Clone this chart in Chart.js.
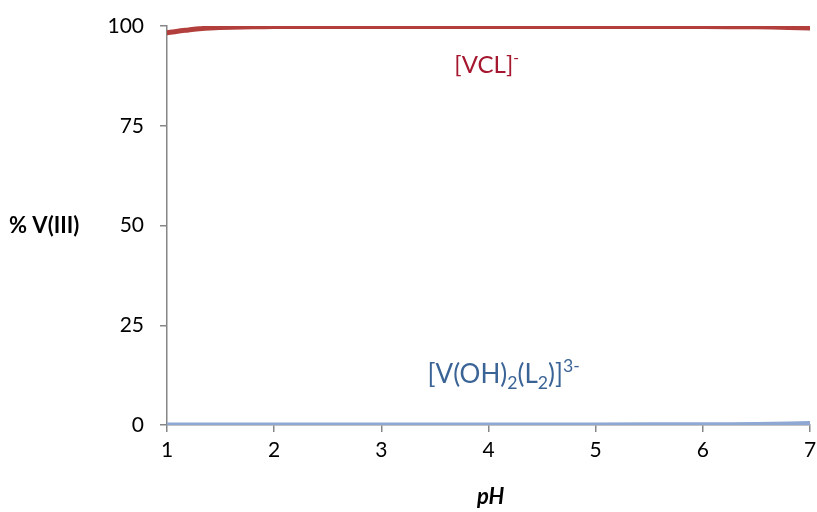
<!DOCTYPE html>
<html>
<head>
<meta charset="utf-8">
<script src="https://cdn.jsdelivr.net/npm/chart.js@4/dist/chart.umd.min.js"></script>
<style>
  html, body { margin: 0; padding: 0; background: #fff; }
  #wrap { width: 817px; height: 512px; position: relative; }
</style>
</head>
<body>
<div id="wrap"><canvas id="c" width="817" height="512"></canvas></div>
<script>
// Speciation of V(III) versus pH
const pH       = [1, 1.1, 1.2, 1.3, 1.4, 1.6, 1.8, 2, 3, 4, 5, 6, 6.5, 6.8, 7];
const vcl      = [98.3, 98.7, 99.0, 99.3, 99.5, 99.7, 99.8, 99.85, 99.9, 99.9, 99.9, 99.85, 99.8, 99.65, 99.5];
const vohL2    = [0, 0, 0, 0, 0, 0, 0, 0, 0, 0, 0.02, 0.05, 0.1, 0.25, 0.4];
const minor    = [0, 0, 0, 0, 0, 0, 0, 0, 0, 0, 0, 0.02, 0.05, 0.12, 0.2];
const yTicks   = [0, 25, 50, 75, 100];
const xTicks   = [1, 2, 3, 4, 5, 6, 7];

const FONT = "Lato, 'Open Sans', sans-serif";
const AXIS_GREY = '#868686';

const toXY = (xs, ys) => xs.map((x, i) => ({ x, y: ys[i] }));

// Labels for species, sub/superscripts, and axis titles
const annotations = {
  id: 'annotations',
  afterDraw(chart) {
    const { ctx, scales: { x, y } } = chart;
    ctx.save();
    ctx.textBaseline = 'alphabetic';

    // runs of [text, mode] where mode is 'n', 'sub' or 'sup'
    function drawRuns(runs, startX, baseY, size, color, small) {
      let cx = startX;
      ctx.fillStyle = color;
      for (const [t, mode] of runs) {
        const s = mode === 'n' ? size : size * small;
        ctx.font = `${s}px ${FONT}`;
        let by = baseY;
        if (mode === 'sub') by = baseY + size * 0.24;
        if (mode === 'sup') by = baseY - size * 0.42;
        ctx.fillText(t, cx, by);
        cx += ctx.measureText(t).width;
      }
    }

    drawRuns([['[VCL]', 'n'], ['-', 'sup']], x.getPixelForValue(3.68), y.getPixelForValue(88.2), 24, '#A5172E', 0.65);
    drawRuns([['[V(OH)', 'n'], ['2', 'sub'], ['(L', 'n'], ['2', 'sub'], [')]', 'n'], ['3-', 'sup']],
             x.getPixelForValue(3.43), y.getPixelForValue(10.6), 26, '#3B6496', 0.68);

    ctx.fillStyle = '#000';
    ctx.font = `bold 22px ${FONT}`;
    ctx.textAlign = 'left';
    ctx.textBaseline = 'middle';
    ctx.fillText('% V(III)', 9, y.getPixelForValue(50));

    ctx.font = `italic bold 22px ${FONT}`;
    ctx.textAlign = 'center';
    ctx.fillText('pH', x.getPixelForValue(4.02), 497);
    ctx.restore();
  }
};

new Chart(document.getElementById('c'), {
  type: 'line',
  data: {
    datasets: [
      { label: '[V(OH)2(L2)]3-', data: toXY(pH, vohL2), borderColor: '#8EA8D3', borderWidth: 5, pointRadius: 0, tension: 0.3, borderCapStyle: 'round' },
      { label: 'minor', data: toXY(pH, minor), borderColor: '#E08A3C', borderWidth: 3, pointRadius: 0, tension: 0.3, borderCapStyle: 'round' },
      { label: '[VCL]-', data: toXY(pH, vcl), borderColor: '#B23F3B', borderWidth: 5, pointRadius: 0, tension: 0.3, borderCapStyle: 'round' }
    ]
  },
  options: {
    responsive: false,
    animation: false,
    layout: { padding: { top: 26, right: 7, left: 0, bottom: 0 } },
    plugins: { legend: { display: false }, tooltip: { enabled: false } },
    scales: {
      x: {
        type: 'linear',
        min: 1, max: 7,
        afterBuildTicks: s => { s.ticks = xTicks.map(v => ({ value: v })); },
        afterFit: s => { s.height = 87; s.paddingRight = 0; s.paddingLeft = 0; },
        grid: { display: true, drawOnChartArea: false, drawTicks: true, tickLength: 7, color: AXIS_GREY, lineWidth: 1.5 },
        border: { display: true, color: AXIS_GREY, width: 1.5 },
        ticks: { color: '#000', font: { family: FONT, size: 21 }, padding: 6, maxRotation: 0 }
      },
      y: {
        min: 0, max: 100,
        afterBuildTicks: s => { s.ticks = yTicks.map(v => ({ value: v })); },
        afterFit: s => { s.width = 167; s.paddingTop = 0; s.paddingBottom = 0; },
        grid: { display: true, drawOnChartArea: false, drawTicks: true, tickLength: 7, color: AXIS_GREY, lineWidth: 1.5 },
        border: { display: true, color: AXIS_GREY, width: 1.5 },
        ticks: { color: '#000', font: { family: FONT, size: 21 }, padding: 16 }
      }
    }
  },
  plugins: [annotations]
});
</script>
</body>
</html>
